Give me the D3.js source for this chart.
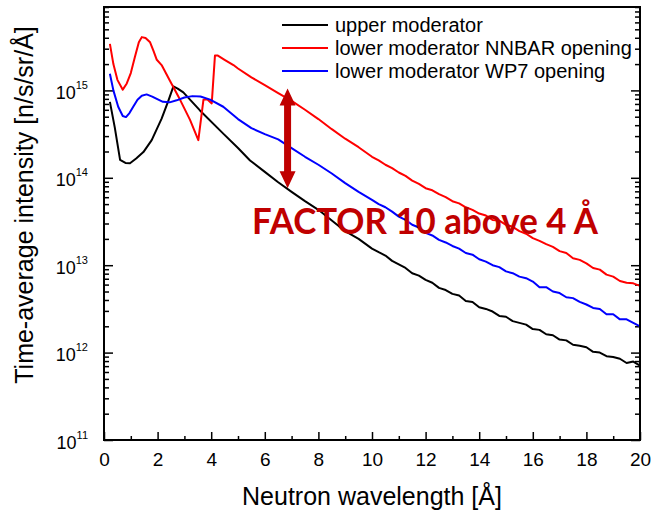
<!DOCTYPE html>
<html>
<head>
<meta charset="utf-8">
<script src="https://cdn.jsdelivr.net/npm/d3@7"></script>
<style>
  body { margin: 0; background: #fff; }
  svg { font-family: "Liberation Sans", Arial, sans-serif; }
</style>
</head>
<body>
<div id="chart"></div>
<script>
// wavelength grid shared by the noisy tail of all three curves (Å)
const tailLambda = [10, 10.25, 10.5, 10.75, 11, 11.25, 11.5, 11.75, 12, 12.25, 12.5, 12.75, 13, 13.25, 13.5, 13.75,
    14, 14.25, 14.5, 14.75, 15, 15.25, 15.5, 15.75, 16, 16.25, 16.5, 16.75, 17, 17.25, 17.5, 17.75,
    18, 18.25, 18.5, 18.75, 19, 19.25, 19.5, 19.75, 20];

// upper moderator
const upperLambda = [0.22, 0.4, 0.6, 0.8, 0.97, 1.2, 1.47, 1.78, 2.15, 2.4, 2.59, 2.75, 2.96, 3.58, 4.45, 5, 5.45,
    6, 6.5, 7, 7.5, 8, 8.5, 9, 9.5];
const upperHead = [7.4e14, 3.8e14, 1.6e14, 1.48e14, 1.47e14, 1.66e14, 1.97e14, 2.7e14, 4.75e14, 7.6e14, 1.11e15, 1.05e15, 9.5e14, 5.9e14, 3.2e14, 2.19e14, 1.58e14,
    1.17e14, 8.9e13, 6.9e13, 5.4e13, 4.3e13, 3.24e13, 2.45e13, 2.0e13];
const upperTail = [1.55e13, 1.41e13, 1.29e13, 1.12e13, 1.02e13, 9.3e12, 8.1e12, 7.6e12, 6.8e12, 6.3e12, 5.5e12, 5.2e12, 4.7e12, 4.5e12, 3.9e12, 3.8e12,
    3.3e12, 3.16e12, 2.95e12, 2.63e12, 2.57e12, 2.29e12, 2.19e12, 2.09e12, 1.86e12, 1.82e12, 1.62e12, 1.58e12, 1.41e12, 1.38e12, 1.23e12, 1.2e12,
    1.15e12, 1.02e12, 1.0e12, 9.1e11, 8.9e11, 8.5e11, 7.6e11, 7.9e11, 7.1e11];

// lower moderator, NNBAR opening
const nnbarLambda = [0.22, 0.35, 0.5, 0.7, 0.85, 1, 1.15, 1.3, 1.41, 1.55, 1.72, 1.85, 1.97, 2.15, 2.46, 2.84, 3.21, 3.52,
    3.71, 3.85, 4.02, 4.14, 4.25, 4.5, 4.83, 5, 5.5, 6, 6.5, 7, 7.5, 8, 8.5, 9, 9.5];
const nnbarHead = [3.4e15, 2.0e15, 1.32e15, 1.02e15, 1.2e15, 1.58e15, 2.4e15, 3.55e15, 4.07e15, 3.98e15, 3.55e15, 2.82e15, 2.24e15, 1.95e15, 1.29e15, 7.8e14, 4.6e14, 2.7e14,
    7.8e14, 7.9e14, 7.1e14, 2.5e15, 2.5e15, 2.24e15, 1.95e15, 1.78e15, 1.41e15, 1.15e15, 9.3e14, 7.6e14, 6.0e14, 4.7e14, 3.6e14, 2.8e14, 2.24e14];
const nnbarTail = [1.74e14, 1.58e14, 1.41e14, 1.29e14, 1.15e14, 1.05e14, 9.3e13, 8.5e13, 7.6e13, 7.2e13, 6.5e13, 6.0e13, 5.4e13, 5.1e13, 4.6e13, 4.3e13,
    3.9e13, 3.7e13, 3.3e13, 3.24e13, 2.9e13, 2.75e13, 2.45e13, 2.29e13, 2.04e13, 1.9e13, 1.74e13, 1.62e13, 1.45e13, 1.38e13, 1.2e13, 1.15e13,
    1.05e13, 9.3e12, 8.9e12, 7.8e12, 7.4e12, 6.6e12, 6.3e12, 6.2e12, 5.8e12];

// lower moderator, WP7 opening
const wp7Lambda = [0.22, 0.35, 0.53, 0.7, 0.82, 0.95, 1.09, 1.25, 1.41, 1.59, 1.8, 1.97, 2.2, 2.45, 2.71, 3, 3.3, 3.6, 3.96, 4.45,
    5, 5.5, 6, 6.5, 7, 7.5, 8, 8.5, 9, 9.5];
const wp7Head = [1.55e15, 1.0e15, 6.5e14, 5.1e14, 4.95e14, 5.5e14, 6.5e14, 7.8e14, 8.7e14, 9.0e14, 8.5e14, 8.0e14, 7.4e14, 7.3e14, 7.7e14, 8.3e14, 8.6e14, 8.5e14, 7.85e14, 6.5e14,
    4.7e14, 3.7e14, 3.16e14, 2.75e14, 2.19e14, 1.74e14, 1.41e14, 1.12e14, 8.7e13, 6.9e13];
const wp7Tail = [5.6e13, 5.0e13, 4.6e13, 4.1e13, 3.6e13, 3.3e13, 2.9e13, 2.7e13, 2.34e13, 2.19e13, 1.95e13, 1.82e13, 1.66e13, 1.55e13, 1.38e13, 1.32e13,
    1.17e13, 1.1e13, 1.0e13, 9.5e12, 8.5e12, 8.1e12, 7.4e12, 7.1e12, 6.5e12, 5.6e12, 5.6e12, 5.0e12, 4.8e12, 4.3e12, 4.2e12, 3.8e12,
    3.55e12, 3.24e12, 3.16e12, 2.75e12, 2.75e12, 2.4e12, 2.4e12, 2.19e12, 2.0e12];

const seriesNames = ["upper moderator", "lower moderator NNBAR opening", "lower moderator WP7 opening"];
const seriesColors = ["#000000", "#ff0000", "#0000ff"];

// axis ticks
const xMajor = [0, 2, 4, 6, 8, 10, 12, 14, 16, 18, 20];
const xMinor = [1, 3, 5, 7, 9, 11, 13, 15, 17, 19];
const yMajor = [1e11, 1e12, 1e13, 1e14, 1e15];

// annotation: factor-10 arrow and its caption
const arrowLambda = 6.85;
const arrowTop = 1.05e15;
const arrowBottom = 7.6e13;
const factorText = "FACTOR 10 above 4 Å";

// layout
const width = 666, height = 519;
const plot = { left: 104, right: 640, top: 7, bottom: 440 };

const svg = d3.select("#chart").append("svg")
    .attr("width", width)
    .attr("height", height);

const x = d3.scaleLinear().domain([0, 20]).range([plot.left, plot.right]);
const y = d3.scaleLog().domain([1e11, 9e15]).range([plot.bottom, plot.top]);

// y minor ticks: 2..9 in every decade
const yMinor = [];
for (let e = 11; e <= 15; e++) {
    for (let m = 2; m <= 9; m++) yMinor.push(m * Math.pow(10, e));
}

// bottom axis (inward ticks)
const xAxisG = svg.append("g")
    .attr("transform", "translate(0," + plot.bottom + ")")
    .call(d3.axisBottom(x).tickValues(xMajor).tickSize(-8).tickPadding(13).tickFormat(d3.format("d")));
xAxisG.selectAll("text").style("font-size", "19px").attr("fill", "#000");
svg.append("g")
    .attr("transform", "translate(0," + plot.bottom + ")")
    .call(d3.axisBottom(x).tickValues(xMinor).tickSize(-4).tickFormat(""));

// left axis with 10^n labels
const yAxisG = svg.append("g")
    .attr("transform", "translate(" + plot.left + ",0)")
    .call(d3.axisLeft(y).tickValues(yMajor).tickSize(-9).tickPadding(16).tickFormat(""));
yAxisG.selectAll(".tick text").each(function (d) {
    const t = d3.select(this).attr("dy", 8).attr("fill", "#000").style("font-size", "18px");
    t.append("tspan").text("10");
    t.append("tspan").attr("dy", -10).style("font-size", "11px").text(Math.round(Math.log10(d)));
});
svg.append("g")
    .attr("transform", "translate(" + plot.left + ",0)")
    .call(d3.axisLeft(y).tickValues(yMinor).tickSize(-5).tickFormat(""));

// right axis, ticks only
svg.append("g")
    .attr("transform", "translate(" + plot.right + ",0)")
    .call(d3.axisRight(y).tickValues(yMajor).tickSize(-9).tickFormat(""));
svg.append("g")
    .attr("transform", "translate(" + plot.right + ",0)")
    .call(d3.axisRight(y).tickValues(yMinor).tickSize(-5).tickFormat(""));

svg.selectAll(".domain").remove();
svg.selectAll(".tick line").attr("stroke", "#000").attr("stroke-width", 1.5);

// curves
const line = d3.line().x(d => x(d[0])).y(d => y(d[1]));
const series = [
    upperLambda.concat(tailLambda).map((l, i) => [l, upperHead.concat(upperTail)[i]]),
    nnbarLambda.concat(tailLambda).map((l, i) => [l, nnbarHead.concat(nnbarTail)[i]]),
    wp7Lambda.concat(tailLambda).map((l, i) => [l, wp7Head.concat(wp7Tail)[i]])
];
svg.selectAll(".curve")
    .data(series)
    .enter().append("path")
    .attr("class", "curve")
    .attr("d", line)
    .attr("fill", "none")
    .attr("stroke", (d, i) => seriesColors[i])
    .attr("stroke-width", 2)
    .attr("stroke-linejoin", "round");

// plot frame
svg.append("rect")
    .attr("x", plot.left).attr("y", plot.top)
    .attr("width", plot.right - plot.left).attr("height", plot.bottom - plot.top)
    .attr("fill", "none").attr("stroke", "#000").attr("stroke-width", 2);

// legend
const legend = svg.append("g").attr("transform", "translate(282,25)");
seriesNames.forEach((name, i) => {
    legend.append("line")
        .attr("x1", 0).attr("x2", 46)
        .attr("y1", i * 23).attr("y2", i * 23)
        .attr("stroke", seriesColors[i]).attr("stroke-width", 2);
    legend.append("text")
        .attr("x", 53).attr("y", i * 23 + 7)
        .style("font-size", "20px")
        .text(name);
});

// double-headed arrow
const ax = x(arrowLambda), ay1 = y(arrowTop), ay2 = y(arrowBottom);
const hw = 8, hl = 17, sw = 3.5;
svg.append("path")
    .attr("d", [
        "M", ax, ay1,
        "L", ax + hw, ay1 + hl, "L", ax + sw, ay1 + hl,
        "L", ax + sw, ay2 - hl, "L", ax + hw, ay2 - hl,
        "L", ax, ay2,
        "L", ax - hw, ay2 - hl, "L", ax - sw, ay2 - hl,
        "L", ax - sw, ay1 + hl, "L", ax - hw, ay1 + hl, "Z"
    ].join(" "))
    .attr("fill", "#c00000");

svg.append("text")
    .attr("x", 252).attr("y", 234)
    .attr("textLength", 346)
    .attr("lengthAdjust", "spacingAndGlyphs")
    .style("font-family", "Lato, 'Open Sans', sans-serif")
    .style("font-weight", "bold")
    .style("font-size", "36px")
    .attr("fill", "#c00000")
    .text(factorText);

// axis titles
svg.append("text")
    .attr("x", (plot.left + plot.right) / 2)
    .attr("y", 505)
    .style("text-anchor", "middle")
    .style("font-size", "25px")
    .text("Neutron wavelength [Å]");

svg.append("text")
    .attr("transform", "rotate(-90)")
    .attr("x", -205)
    .attr("y", 33)
    .style("text-anchor", "middle")
    .style("font-size", "25px")
    .text("Time-average intensity [n/s/sr/Å]");
</script>
</body>
</html>
